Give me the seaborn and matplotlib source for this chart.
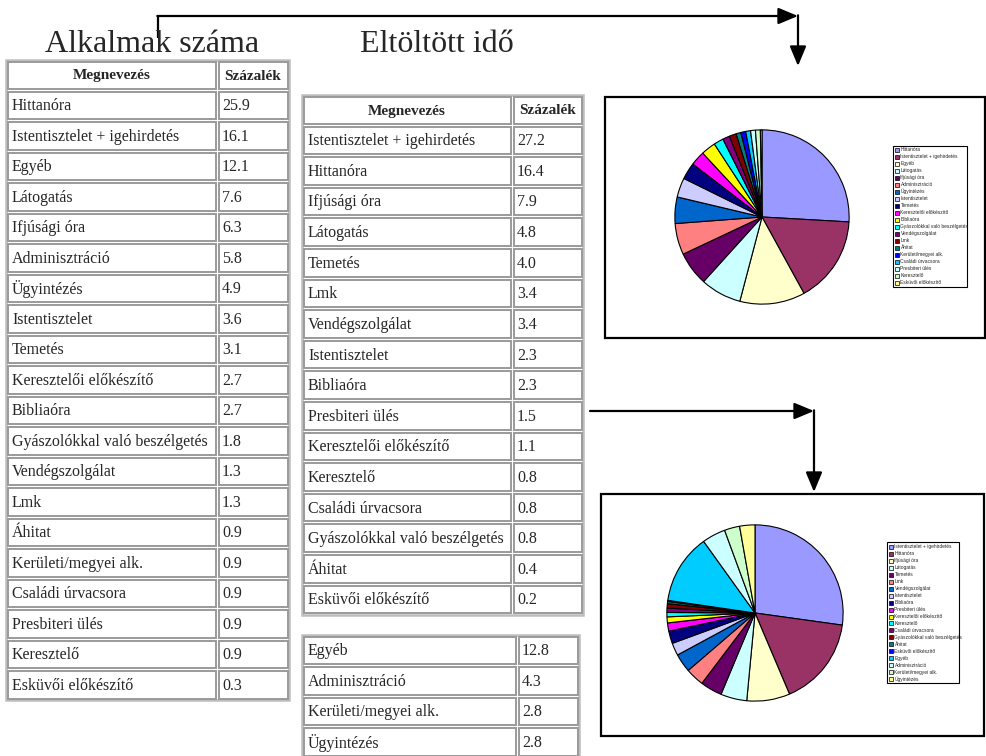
import matplotlib
matplotlib.use("Agg")
import matplotlib.pyplot as plt
import seaborn as sns
from matplotlib.patches import Rectangle

sns.set_theme(style="white")
plt.rcParams['font.family'] = ['Liberation Serif', 'DejaVu Serif']

W, H = 986, 756

title_left = "Alkalmak száma"
title_right = "Eltöltött idő"
header = ["Megnevezés", "Százalék"]

alk_names = ["Hittanóra", "Istentisztelet + igehirdetés", "Egyéb", "Látogatás",
             "Ifjúsági óra", "Adminisztráció", "Ügyintézés", "Istentisztelet",
             "Temetés", "Keresztelői előkészítő", "Bibliaóra",
             "Gyászolókkal való beszélgetés", "Vendégszolgálat", "Lmk", "Áhitat",
             "Kerületi/megyei alk.", "Családi úrvacsora", "Presbiteri ülés",
             "Keresztelő", "Esküvői előkészítő"]
alk_values = [25.9, 16.1, 12.1, 7.6, 6.3, 5.8, 4.9, 3.6, 3.1, 2.7, 2.7, 1.8,
              1.3, 1.3, 0.9, 0.9, 0.9, 0.9, 0.9, 0.3]

ido_names = ["Istentisztelet + igehirdetés", "Hittanóra", "Ifjúsági óra",
             "Látogatás", "Temetés", "Lmk", "Vendégszolgálat", "Istentisztelet",
             "Bibliaóra", "Presbiteri ülés", "Keresztelői előkészítő",
             "Keresztelő", "Családi úrvacsora", "Gyászolókkal való beszélgetés",
             "Áhitat", "Esküvői előkészítő"]
ido_values = [27.2, 16.4, 7.9, 4.8, 4.0, 3.4, 3.4, 2.3, 2.3, 1.5, 1.1, 0.8,
              0.8, 0.8, 0.4, 0.2]

extra_names = ["Egyéb", "Adminisztráció", "Kerületi/megyei alk.", "Ügyintézés"]
extra_values = [12.8, 4.3, 2.8, 2.8]

excel_colors = ["#9999FF", "#993366", "#FFFFCC", "#CCFFFF", "#660066",
                "#FF8080", "#0066CC", "#CCCCFF", "#000080", "#FF00FF",
                "#FFFF00", "#00FFFF", "#800080", "#800000", "#008080",
                "#0000FF", "#00CCFF", "#CCFFFF", "#CCFFCC", "#FFFF99"]
palette = sns.color_palette(excel_colors)

fig = plt.figure(figsize=(W / 100, H / 100), dpi=100)
fig.patch.set_facecolor("white")
bg = fig.add_axes([0, 0, 1, 1])
bg.set_xlim(0, W)
bg.set_ylim(H, 0)
bg.axis("off")

SERIF = ["Liberation Serif", "DejaVu Serif"]
SANS = ["Liberation Sans", "DejaVu Sans"]


def cell(xa, xb, ya, h):
    bg.add_patch(Rectangle((xa + 1.5, ya + 1.5), xb - xa - 3, h - 3,
                           fill=False, ec="#9a9a9a", lw=1.4))


def draw_table(x0, x1, xsep, y0, row_h, names, values, header_h=None):
    total = (header_h or 0) + row_h * len(names)
    bg.add_patch(Rectangle((x0, y0), x1 - x0, total, fill=False,
                           ec="#bdbdbd", lw=1.8))
    y = y0
    if header_h:
        cell(x0, xsep, y, header_h)
        cell(xsep, x1, y, header_h)
        bg.text((x0 + xsep) / 2, y + header_h / 2 + 1, header[0], ha="center",
                va="center", fontsize=11, fontweight="bold", family=SERIF)
        bg.text((xsep + x1) / 2, y + header_h / 2 + 1, header[1], ha="center",
                va="center", fontsize=11, fontweight="bold", family=SERIF)
        y += header_h
    for name, val in zip(names, values):
        cell(x0, xsep, y, row_h)
        cell(xsep, x1, y, row_h)
        bg.text(x0 + 6, y + row_h / 2 + 1, name, ha="left", va="center",
                fontsize=11.5, family=SERIF)
        bg.text(xsep + 5, y + row_h / 2 + 1, f"{val:.1f}", ha="left",
                va="center", fontsize=11.5, family=SERIF)
        y += row_h


# titles
bg.text(152, 52, title_left, ha="center", va="baseline", fontsize=23,
        family=SERIF)
bg.text(437, 52, title_right, ha="center", va="baseline", fontsize=23,
        family=SERIF)

# tables
draw_table(6, 289, 217, 60, 30.5, alk_names, alk_values, header_h=30)
draw_table(302, 583, 512, 95, 30.6, ido_names, ido_values, header_h=30)
draw_table(302, 579, 517, 635, 30.5, extra_names, extra_values)

# arrows
astyle = dict(arrowstyle="-|>,head_length=0.6,head_width=0.25", lw=1.6,
              color="black", mutation_scale=20, shrinkA=0, shrinkB=0)
bg.plot([158, 158], [16, 38], color="black", lw=1.6, solid_capstyle="butt")
bg.annotate("", xy=(798, 16), xytext=(157.3, 16), arrowprops=astyle)
bg.annotate("", xy=(798, 66), xytext=(798, 15.3), arrowprops=astyle)
bg.annotate("", xy=(814, 411), xytext=(590, 411), arrowprops=astyle)
bg.annotate("", xy=(814, 492), xytext=(814, 410.3), arrowprops=astyle)

# chart frames
bg.add_patch(Rectangle((605, 97), 380, 241, fill=False, ec="black", lw=1.6))
bg.add_patch(Rectangle((601, 494), 383, 242, fill=False, ec="black", lw=1.6))


def draw_pie(cx, cy, r, values):
    ax = fig.add_axes([(cx - r) / W, 1 - (cy + r) / H, 2 * r / W, 2 * r / H])
    ax.pie(values, colors=palette[:len(values)], startangle=90,
           counterclock=False, radius=1,
           wedgeprops=dict(edgecolor="black", linewidth=0.8))
    ax.set_xlim(-1.01, 1.01)
    ax.set_ylim(-1.01, 1.01)
    ax.axis("off")


def draw_legend(bx0, by0, bx1, by1, first_y, pitch, labels, mx, tx):
    bg.add_patch(Rectangle((bx0, by0), bx1 - bx0, by1 - by0, fill=False,
                           ec="black", lw=0.8))
    for i, lab in enumerate(labels):
        y = first_y + i * pitch
        bg.add_patch(Rectangle((mx, y - 2), 4, 4, fc=palette[i], ec="black",
                               lw=0.5))
        bg.text(tx, y, lab, ha="left", va="center", fontsize=3.5, family=SANS)


draw_pie(762, 217, 88, alk_values)
draw_legend(893, 146, 967, 287, 149.5, 7.02, alk_names, 895, 900.5)

all_ido_names = ido_names + extra_names
all_ido_values = ido_values + extra_values
draw_pie(755, 613, 89, all_ido_values)
draw_legend(887, 542, 959, 683, 546.7, 6.98, all_ido_names, 889, 894.5)

fig.savefig("out.png", dpi=100, facecolor="white")
